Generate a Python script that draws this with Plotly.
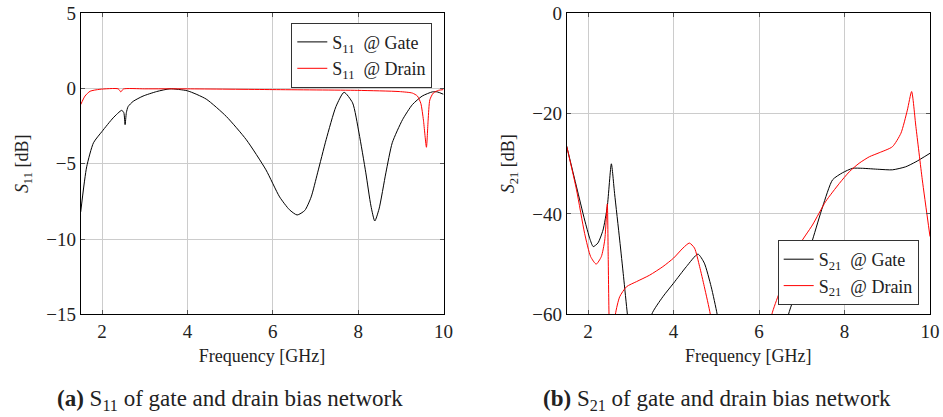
import plotly.graph_objects as go

# ---------------- data ----------------
# Left: S11 (dB)
s11_gate_f = [1.5, 1.64, 1.8, 2.0, 2.26, 2.46, 2.51, 2.54, 2.57, 2.61, 2.73, 2.96, 3.28, 3.59, 4.0, 4.44, 4.91, 5.38,
              5.84, 6.16, 6.39, 6.57, 6.75, 6.9, 7.05, 7.25, 7.48, 7.67, 7.87, 8.02, 8.18, 8.30, 8.39, 8.49, 8.65,
              8.80, 9.04, 9.27, 9.50, 9.74, 9.85, 10.0]
s11_gate_db = [-8.2, -5.2, -3.6, -2.85, -1.95, -1.45, -1.6, -2.4, -1.6, -1.2, -0.85, -0.5, -0.2, -0.02, -0.15, -0.7,
               -1.85, -3.4, -5.4, -7.2, -8.05, -8.4, -8.1, -7.2, -5.6, -3.4, -1.2, -0.25, -0.95, -2.95, -5.6, -7.8,
               -8.8, -8.0, -5.6, -3.6, -2.07, -1.07, -0.5, -0.22, -0.22, -0.38]

s11_drain_f = [1.5, 1.6, 1.72, 1.95, 2.38, 2.44, 2.5, 3.0, 4.0, 6.0, 7.98, 8.96, 9.27, 9.39, 9.47, 9.53, 9.60,
               9.64, 9.68, 9.76, 9.88, 10.0]
s11_drain_db = [-1.07, -0.5, -0.18, -0.05, -0.02, -0.22, -0.03, -0.02, -0.02, -0.07, -0.12, -0.2, -0.3, -0.5,
                -1.0, -2.1, -3.9, -2.1, -0.75, -0.3, -0.12, -0.07]

# Right: S21 (dB)
s21_gate_f = [1.5, 1.73, 1.92, 2.04, 2.12, 2.23, 2.35, 2.45, 2.545, 2.62, 2.74, 2.83, 2.92, 3.0, 3.2, 3.42, 3.49,
              3.75, 4.0, 4.30, 4.57, 4.72, 4.88, 5.02, 5.1, 6.0, 6.6, 6.69, 6.94, 7.25, 7.49, 7.72, 7.95, 8.19,
              8.42, 8.81, 9.12, 9.43, 9.67, 10.0]
s21_gate_db = [-26.5, -34.6, -41.2, -44.9, -46.5, -45.8, -43.2, -38.5, -30.0, -35.9, -45.2, -52.5, -60.0, -66.0,
               -72.0, -66.0, -60.0, -56.5, -53.8, -50.5, -48.0, -49.8, -54.5, -60.0, -65.0, -75.0, -65.0, -60.0,
               -53.8, -45.2, -38.5, -33.2, -31.8, -30.9, -30.9, -31.1, -31.2, -30.6, -29.6, -27.9]

s21_drain_f = [1.5, 1.73, 1.92, 2.06, 2.19, 2.31, 2.39, 2.45, 2.47, 2.49, 2.52, 2.6, 2.64, 2.74, 2.9, 3.13, 3.44,
               3.75, 4.0, 4.22, 4.37, 4.49, 4.61, 4.72, 4.86, 4.95, 5.6, 6.2, 6.30, 6.47, 6.71, 6.94, 7.25, 7.56,
               7.88, 8.11, 8.34, 8.58, 8.81, 9.12, 9.32, 9.47, 9.57, 9.67, 9.82, 10.0]
s21_drain_db = [-26.5, -35.2, -43.9, -48.5, -50.0, -48.5, -45.2, -38.0, -48.0, -60.0, -68.0, -68.0, -60.0, -56.5,
                -54.5, -53.5, -52.2, -50.5, -48.8, -46.8, -45.8, -46.8, -50.5, -54.5, -60.0, -66.0, -75.0,
                -66.0, -60.0, -55.8, -50.5, -46.2, -42.2, -37.5, -33.9, -31.6, -29.9, -28.6, -27.8, -26.6,
                -23.9, -19.3, -15.6, -22.6, -33.2, -44.5]

x_ticks = [2, 4, 6, 8, 10]
s11_ticks = [5, 0, -5, -10, -15]
s21_ticks = [0, -20, -40, -60]

# ---------------- figure ----------------
FONT = "Liberation Serif, Times New Roman, serif"
fig = go.Figure()

def line(color):
    return dict(color=color, width=1, shape="spline", smoothing=0.6)

fig.add_trace(go.Scatter(x=s11_gate_f, y=s11_gate_db, mode="lines", line=line("black"),
                         name="S<sub>11</sub>  @ Gate", xaxis="x", yaxis="y", legend="legend"))
fig.add_trace(go.Scatter(x=s11_drain_f, y=s11_drain_db, mode="lines", line=line("red"),
                         name="S<sub>11</sub>  @ Drain", xaxis="x", yaxis="y", legend="legend"))
fig.add_trace(go.Scatter(x=s21_gate_f, y=s21_gate_db, mode="lines", line=line("black"),
                         name="S<sub>21</sub>  @ Gate", xaxis="x2", yaxis="y2", legend="legend2"))
fig.add_trace(go.Scatter(x=s21_drain_f, y=s21_drain_db, mode="lines", line=line("red"),
                         name="S<sub>21</sub>  @ Drain", xaxis="x2", yaxis="y2", legend="legend2"))

axis_common = dict(showline=True, linecolor="black", linewidth=1, mirror="ticks", ticks="inside", ticklen=4,
                   tickcolor="#555", showgrid=True, gridcolor="#cccccc", gridwidth=1, zeroline=False,
                   automargin=False, tickfont=dict(family=FONT, size=19, color="#222"))

y_dom = [1 - 314.3 / 417, 1 - 13.3 / 417]
title_font = dict(family=FONT, size=18, color="#222")
leg_font = dict(family=FONT, size=18, color="#222")

fig.update_layout(
    template="none",
    width=943, height=417, margin=dict(l=0, r=0, t=0, b=0),
    paper_bgcolor="white", plot_bgcolor="white",
    font=dict(family=FONT, color="#222"),
    showlegend=True,
    xaxis=dict(domain=[80.7 / 943, 443.5 / 943], range=[1.5, 10], tickvals=x_ticks, anchor="y",
               title=dict(text="Frequency [GHz]", font=title_font, standoff=8), **axis_common),
    yaxis=dict(domain=y_dom, range=[-15, 5], tickvals=s11_ticks, anchor="x",
               title=dict(text="<i>S</i><sub>11</sub> [dB]", font=title_font, standoff=12), **axis_common),
    xaxis2=dict(domain=[566.7 / 943, 930 / 943], range=[1.5, 10], tickvals=x_ticks, anchor="y2",
                title=dict(text="Frequency [GHz]", font=title_font, standoff=8), **axis_common),
    yaxis2=dict(domain=y_dom, range=[-60, 0], tickvals=s21_ticks, anchor="x2",
                title=dict(text="<i>S</i><sub>21</sub> [dB]", font=title_font, standoff=12), **axis_common),
    legend=dict(x=432.3 / 943, y=1 - 22.7 / 417, xanchor="right", yanchor="top", bgcolor="white",
                bordercolor="#333", borderwidth=1, font=leg_font, tracegroupgap=0, itemwidth=30),
    legend2=dict(x=918.7 / 943, y=1 - 305 / 417, xanchor="right", yanchor="bottom", bgcolor="white",
                 bordercolor="#333", borderwidth=1, font=leg_font, tracegroupgap=0, itemwidth=30),
    annotations=[
        dict(text="<b>(a)</b> S<sub>11</sub> of gate and drain bias network", x=230 / 943, y=1 - 400 / 417,
             xref="paper", yref="paper", showarrow=False, font=dict(family=FONT, size=23, color="#222"),
             xanchor="center", yanchor="middle"),
        dict(text="<b>(b)</b> S<sub>21</sub> of gate and drain bias network", x=717 / 943, y=1 - 400 / 417,
             xref="paper", yref="paper", showarrow=False, font=dict(family=FONT, size=23, color="#222"),
             xanchor="center", yanchor="middle"),
    ],
)

fig.write_html("out.html")
